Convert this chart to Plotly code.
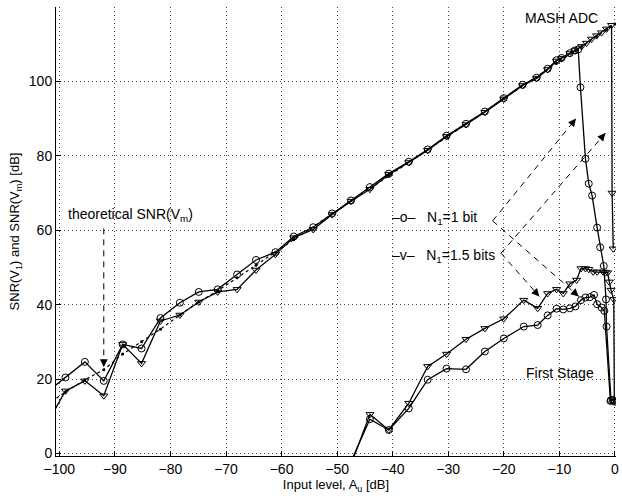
import plotly.graph_objects as go

# ---------------- data ----------------
# MASH ADC, N1 = 1 bit (circles)
x_mash_o = [-102.3, -98.9, -95.4, -92.0, -88.6, -85.2, -81.8, -78.3, -74.9, -71.5,
            -68.0, -64.6, -61.1, -57.8, -54.3, -50.9, -47.5, -44.1, -40.7, -37.1,
            -33.7, -30.3, -26.8, -23.4, -20.0, -16.6, -14.1, -12.1, -10.5, -9.6,
            -8.1, -7.2, -6.6, -6.2, -5.3, -4.7, -4.1, -3.2, -2.65, -2.0, -1.6, -1.5, -0.7]
y_mash_o = [16.4, 20.4, 24.6, 19.5, 29.3, 28.2, 36.4, 40.5, 43.4, 44.1,
            48.1, 52.0, 54.1, 58.3, 60.8, 64.5, 68.0, 71.6, 75.2, 78.4,
            81.7, 85.4, 88.6, 91.9, 95.5, 99.1, 101.0, 103.4, 105.7, 106.3,
            107.6, 108.3, 108.6, 98.4, 79.2, 72.5, 69.3, 60.7, 55.4, 50.4, 41.4, 34.1, 14.3]

# MASH ADC, N1 = 1.5 bits (triangles)
x_mash_v = [-102.3, -98.9, -95.4, -92.0, -88.6, -85.2, -81.8, -78.3, -74.9, -71.5,
            -68.0, -64.6, -61.1, -57.8, -54.3, -50.9, -47.5, -44.1, -40.7, -37.1,
            -33.7, -30.3, -26.8, -23.4, -20.0, -16.6, -14.1, -12.1, -10.5, -9.6,
            -8.1, -7.2, -6.0, -5.1, -4.2, -3.3, -2.4, -1.5, -0.6, -0.5, -0.3]
y_mash_v = [7.8, 16.8, 19.5, 15.5, 29.3, 24.2, 35.6, 37.2, 40.7, 43.4,
            44.1, 49.3, 53.5, 58.0, 60.2, 64.2, 67.8, 71.0, 75.0, 78.2,
            81.5, 85.2, 88.4, 91.7, 95.3, 98.9, 100.8, 103.2, 105.5, 106.2,
            107.5, 108.3, 109.4, 110.3, 111.4, 112.3, 113.1, 114.1, 115.1, 70.0, 55.0]

# theoretical SNR(Vm) (dotted)
x_theory = [-102.3, -98.9, -95.4, -92.0, -88.6, -85.2, -81.8, -78.3, -74.9, -71.5,
            -68.0, -64.6, -61.1, -57.8, -50.9, -40.7, -30.3, -20.0, -10.5, -6.0,
            -3.3, -1.5, 0.0]
y_theory = [13.0, 16.5, 19.8, 22.5, 26.7, 30.0, 33.4, 37.2, 40.7, 43.7,
            47.2, 50.6, 54.1, 57.6, 64.5, 74.7, 85.1, 95.4, 104.9, 109.4,
            112.1, 113.9, 115.4]

# First stage, N1 = 1 bit (circles)
x_fs_o = [-47.5, -44.1, -40.7, -37.1, -33.7, -30.3, -26.8, -23.4, -20.0, -16.4,
          -13.9, -12.1, -10.5, -9.3, -8.1, -7.1, -6.1, -5.3, -4.5, -3.75,
          -3.2, -2.4, -1.9, -0.8, -0.4, 0.0]
y_fs_o = [-2.2, 9.2, 6.3, 12.1, 19.8, 22.8, 22.6, 27.4, 30.9, 34.1,
          34.5, 37.1, 38.9, 38.7, 39.0, 39.5, 41.2, 41.9, 42.0, 42.6,
          40.1, 39.2, 38.3, 14.1, 14.4, 13.9]

# First stage, N1 = 1.5 bits (triangles)
x_fs_v = [-47.5, -44.1, -40.7, -37.1, -33.7, -30.3, -26.8, -23.4, -20.0, -16.4,
          -13.9, -12.1, -10.5, -9.3, -8.1, -6.9, -6.1, -5.3, -4.7, -3.9,
          -3.2, -2.1, -1.7, -1.3, -1.0, -0.7, -0.2, -0.1]
y_fs_v = [-3.0, 10.5, 6.3, 13.5, 23.4, 26.7, 30.7, 33.6, 36.2, 41.2,
          39.0, 43.0, 44.1, 43.0, 45.6, 46.6, 49.7, 49.7, 49.5, 48.8,
          48.8, 48.8, 48.6, 48.6, 46.1, 43.9, 41.4, 14.0]

x_ticks = [-100, -90, -80, -70, -60, -50, -40, -30, -20, -10, 0]
y_ticks = [0, 20, 40, 60, 80, 100, 120]

# ---------------- figure ----------------
FONT = "Liberation Sans, Arial, Helvetica, sans-serif"
fig = go.Figure()

line_style = dict(color="black", width=1.3)
fig.add_trace(go.Scatter(x=x_theory, y=y_theory, mode="lines+markers",
                         line=dict(color="black", width=1.2, dash="dot"),
                         marker=dict(symbol="circle", size=3, color="black"),
                         showlegend=False, hoverinfo="skip"))
for xs, ys, sym in [(x_mash_o, y_mash_o, "circle-open"),
                    (x_mash_v, y_mash_v, "triangle-down-open"),
                    (x_fs_o, y_fs_o, "circle-open"),
                    (x_fs_v, y_fs_v, "triangle-down-open")]:
    fig.add_trace(go.Scatter(x=xs, y=ys, mode="lines+markers",
                             line=line_style,
                             marker=dict(symbol=sym, size=7, color="black",
                                         line=dict(width=1, color="black")),
                             showlegend=False, cliponaxis=True))

# annotation geometry (data coordinates)
SX, SY = 5.585, 3.717  # approx px per unit, used only for arrow head direction

def dashed_arrow(x0, y0, x1, y1):
    fig.add_shape(type="line", x0=x0, y0=y0, x1=x1, y1=y1, xref="x", yref="y",
                  line=dict(color="black", width=1, dash="6px,5px"))
    dx, dy = (x1 - x0) * SX, (y1 - y0) * SY
    n = (dx * dx + dy * dy) ** 0.5
    fig.add_annotation(x=x1, y=y1, xref="x", yref="y", text="", showarrow=True,
                       ax=-dx / n * 9, ay=dy / n * 9, arrowhead=2, arrowsize=1.3,
                       arrowwidth=1.2, arrowcolor="black")

dashed_arrow(-92.0, 60.5, -92.0, 23.2)
dashed_arrow(-22.0, 62.5, -7.0, 90.0)
dashed_arrow(-22.0, 62.5, -6.5, 42.2)
dashed_arrow(-20.5, 53.8, -1.7, 86.1)
dashed_arrow(-20.5, 53.8, -13.6, 42.2)

txt = dict(family=FONT, size=14, color="black")
fig.add_annotation(x=-16.6, y=117.0, xref="x", yref="y", text="MASH ADC",
                   showarrow=False, xanchor="left", yanchor="middle", font=txt)
fig.add_annotation(x=-16.3, y=21.6, xref="x", yref="y", text="First Stage",
                   showarrow=False, xanchor="left", yanchor="middle", font=txt)
fig.add_annotation(x=-98.8, y=64.2, xref="x", yref="y",
                   text="theoretical SNR(V<sub>m</sub>)",
                   showarrow=False, xanchor="left", yanchor="middle", font=txt)
fig.add_annotation(x=-40.4, y=63.3, xref="x", yref="y",
                   text="\u2013o\u2013   N<sub>1</sub>=1 bit",
                   showarrow=False, xanchor="left", yanchor="middle", font=txt)
fig.add_annotation(x=-40.4, y=53.0, xref="x", yref="y",
                   text="\u2013v\u2013   N<sub>1</sub>=1.5 bits",
                   showarrow=False, xanchor="left", yanchor="middle", font=txt)

axis_common = dict(showline=True, linecolor="black", linewidth=1,
                   ticks="inside", ticklen=5, tickcolor="black",
                   showgrid=True, gridcolor="#444444", gridwidth=1,
                   griddash="1px,3px", zeroline=False, mirror=False,
                   tickfont=dict(family=FONT, size=14, color="black"))

fig.update_xaxes(range=[-100.6, 0.2], tickvals=x_ticks,
                 title=dict(text="Input level, A<sub>u</sub> [dB]", standoff=2,
                            font=dict(family=FONT, size=13, color="black")),
                 **axis_common)
fig.update_yaxes(range=[-0.7, 120], tickvals=y_ticks,
                 title=dict(text="SNR(V<sub>1</sub>) and SNR(V<sub>m</sub>) [dB]",
                            standoff=6,
                            font=dict(family=FONT, size=13, color="black")),
                 **axis_common)

fig.update_layout(width=622, height=501, plot_bgcolor="white", paper_bgcolor="white",
                  margin=dict(l=56, r=3, t=7, b=45), showlegend=False,
                  font=dict(family=FONT, color="black"))

fig.write_html("out.html")
